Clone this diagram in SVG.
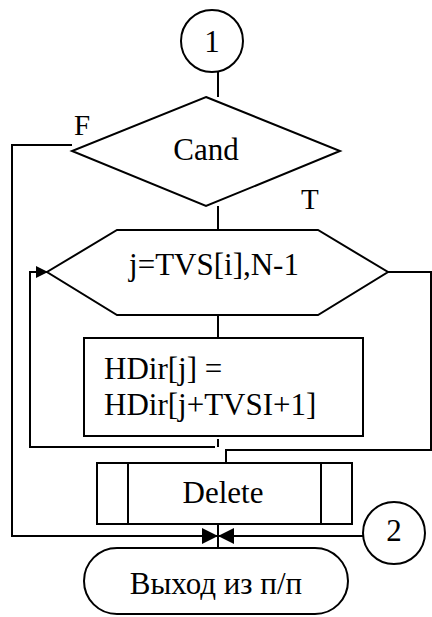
<svg xmlns="http://www.w3.org/2000/svg" width="432" height="617" viewBox="0 0 432 617">
<defs>
<style>
.s{fill:none;stroke:#000;stroke-width:2}
.b{fill:#fff;stroke:#000;stroke-width:2}
.t{font-family:'Liberation Serif','Times New Roman',serif;font-size:31px;fill:#000}
.c{text-anchor:middle}
</style>
<marker id="ah" viewBox="0 0 16 16" refX="16" refY="8" markerWidth="16" markerHeight="16" markerUnits="userSpaceOnUse" orient="auto">
<path d="M0,0 L16,8 L0,16 Z" fill="#000"/>
</marker>
<marker id="ah2" viewBox="0 0 12 12" refX="12" refY="6" markerWidth="12" markerHeight="12" markerUnits="userSpaceOnUse" orient="auto">
<path d="M0,0 L12,6 L0,12 Z" fill="#000"/>
</marker>
</defs>
<rect width="432" height="617" fill="#fff"/>
<g class="t">
<g id="connectors">
<path class="s" d="M218,72 V97"/>
<path class="s" d="M218,206 V230"/>
<path class="s" d="M218,315 V338"/>
<path class="s" d="M72,145 H12 V536 H218" marker-end="url(#ah)"/>
<path class="s" d="M363,536 H218" marker-end="url(#ah)"/>
<path class="s" d="M218,525 V548"/>
<path class="s" d="M218,439 V447 M215,447 H30 V272 H48" marker-end="url(#ah2)"/>
<path class="s" d="M388,272 H431 V450 H226 V463"/>
<text x="74" y="135" style="font-size:29px">F</text>
<text x="301" y="209" style="font-size:29px">T</text>
</g>
<g id="start1">
<circle class="b" cx="212" cy="41" r="31"/>
<text class="c" x="212" y="52">1</text>
</g>
<g id="cand">
<polygon class="b" points="206,97 340,151 206,206 72,151"/>
<text class="c" x="206" y="160">Cand</text>
</g>
<g id="loop">
<polygon class="b" points="117,230 318,230 388,272 318,315 117,315 47,272"/>
<text class="c" x="214" y="275">j=TVS[i],N-1</text>
</g>
<g id="assign">
<rect class="b" x="84" y="338" width="279" height="98"/>
<text x="104" y="379">HDir[j] =</text>
<text x="104" y="415">HDir[j+TVSI+1]</text>
</g>
<g id="delete">
<rect class="b" x="97" y="463" width="255" height="61"/>
<path class="s" d="M128,463 V524 M321,463 V524"/>
<text class="c" x="223" y="503">Delete</text>
</g>
<g id="conn2">
<circle class="b" cx="394" cy="533" r="31"/>
<text class="c" x="394" y="541">2</text>
</g>
<g id="exit">
<rect class="b" x="84" y="548" width="264" height="66" rx="33" ry="33"/>
<text class="c" x="216" y="594">Выход из п/п</text>
</g>
</g>
</svg>
